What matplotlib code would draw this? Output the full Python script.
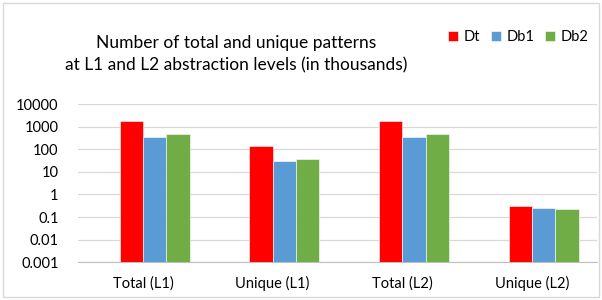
import matplotlib
matplotlib.use("Agg")
import matplotlib.pyplot as plt
from matplotlib.patches import Rectangle
from matplotlib.ticker import FixedLocator, LogLocator, NullFormatter
import numpy as np

categories = ["Total (L1)", "Unique (L1)", "Total (L2)", "Unique (L2)"]
series_names = ["Dt", "Db1", "Db2"]
dt_values = [1715, 134, 1715, 0.31]
db1_values = [335, 31, 335, 0.25]
db2_values = [457, 37, 457, 0.235]
colors = ["#FF0000", "#5B9BD5", "#70AD47"]
ytick_values = [0.001, 0.01, 0.1, 1, 10, 100, 1000, 10000]
ytick_labels = ["0.001", "0.01", "0.1", "1", "10", "100", "1000", "10000"]

plt.rcParams['font.family'] = ['Lato', 'DejaVu Sans']

fig = plt.figure(figsize=(6.02, 3.0), dpi=100)
fig.patches.append(Rectangle((0.005, 0.01), 0.99, 0.98, transform=fig.transFigure,
                             fill=False, edgecolor="#D9D9D9", linewidth=1.0))
ax = fig.add_axes([0.1296, 0.1257, 0.862, 0.5276])

x = np.arange(len(categories))
w = 0.18
offsets = [-0.5 * w, 0.5 * w, 1.5 * w]
for vals, name, c, off in zip([dt_values, db1_values, db2_values], series_names, colors, offsets):
    ax.bar(x + off, vals, width=w, color=c, label=name, edgecolor="white", linewidth=0.4,
           zorder=3, bottom=0.001)

ax.set_yscale("log")
ax.set_ylim(0.001, 10000)
ax.set_xlim(-0.5, 3.5)
ax.yaxis.set_major_locator(FixedLocator(ytick_values))
ax.set_yticklabels(ytick_labels)
ax.yaxis.set_minor_locator(LogLocator(base=10, subs=np.arange(2, 10)))
ax.yaxis.set_minor_formatter(NullFormatter())
ax.grid(which="major", axis="y", color="#D9D9D9", linewidth=0.9, zorder=0)
ax.grid(which="minor", axis="y", color="#F0F0F0", linewidth=0.8, zorder=0)
ax.set_xticks(x)
ax.set_xticklabels(categories)
for s in ["top", "right", "left"]:
    ax.spines[s].set_visible(False)
ax.spines["bottom"].set_color("#BFBFBF")
ax.tick_params(axis="both", which="both", length=0, labelsize=10.5, colors="#000000")
ax.tick_params(axis="x", pad=10)
ax.tick_params(axis="y", pad=14)

fig.text(0.392, 0.82, "Number of total and unique patterns\nat L1 and L2 abstraction levels (in thousands)",
         ha="center", va="center", fontsize=12.5, linespacing=1.45)

leg = ax.legend(loc="center right", bbox_to_anchor=(0.977, 0.877), bbox_transform=fig.transFigure,
                ncol=3, frameon=False, fontsize=10.5, handlelength=0.7, handleheight=0.7,
                handletextpad=0.35, columnspacing=0.75, borderaxespad=0, borderpad=0)

fig.savefig("out.png", dpi=100)
